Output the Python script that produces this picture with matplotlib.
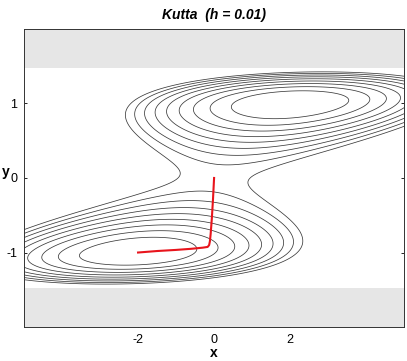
import matplotlib
matplotlib.use('Agg')
import matplotlib.pyplot as plt
import numpy as np

plt.rcParams['font.family'] = ['Liberation Sans', 'DejaVu Sans']
plt.rcParams['axes.unicode_minus'] = False

# surface parameters (two wells at (-2,-1) and (2,1))
slope = 2.0
x_scale = 2.25
well_depth = 7.4
levels = [1.0, 1.85, 2.7, 3.55, 4.4, 5.25, 6.1, 6.95, 7.8]

# gray bands outside |y| < band_edge
band_edge = 1.47

# trajectory
path_x = [0.0, -0.03, -0.06, -0.09, -0.11, -0.13, -0.17, -0.3, -0.6, -1.0, -1.5, -2.0]
path_y = [0.0, -0.3, -0.55, -0.75, -0.85, -0.9, -0.925, -0.935, -0.95, -0.965, -0.98, -1.0]

xg = np.linspace(-5, 5, 600)
yg = np.linspace(-2, 2, 500)
X, Y = np.meshgrid(xg, yg)
Z = (X - slope * Y) ** 2 / x_scale + well_depth * (Y ** 2 - 1) ** 2

fig = plt.figure(figsize=(4.07, 3.61), dpi=100)
ax = fig.add_axes([0.059, 0.094, 0.934, 0.826])

ax.contour(X, Y, Z, levels=levels, colors='#3a3a3a', linewidths=0.55, zorder=1)
ax.axhspan(band_edge, 2, color='#e6e6e6', lw=0, zorder=2)
ax.axhspan(-2, -band_edge, color='#e6e6e6', lw=0, zorder=2)
ax.plot(path_x, path_y, color='#e8141c', lw=1.5, zorder=3)

ax.set_xlim(-5, 5)
ax.set_ylim(-2, 2)
ax.set_xticks([-2, 0, 2])
ax.set_yticks([-1, 0, 1])
ax.tick_params(direction='in', top=True, right=True, length=2.5, width=0.6,
               labelsize=9)
ax.tick_params(axis='x', pad=5)
ax.tick_params(axis='y', pad=5)
for s in ax.spines.values():
    s.set_linewidth(0.7)
    s.set_color('#333333')

ax.set_title('Kutta  (h = 0.01)', fontsize=10, fontweight='bold',
             fontstyle='italic', pad=7)
ax.set_xlabel('x', fontsize=10, fontweight='bold')
ax.xaxis.set_label_coords(0.5, -0.065)
ax.set_ylabel('y', fontsize=10, fontweight='bold', rotation=0, va='center', ha='center')
ax.yaxis.set_label_coords(-0.047, 0.52)

fig.savefig('out.png', dpi=100)
